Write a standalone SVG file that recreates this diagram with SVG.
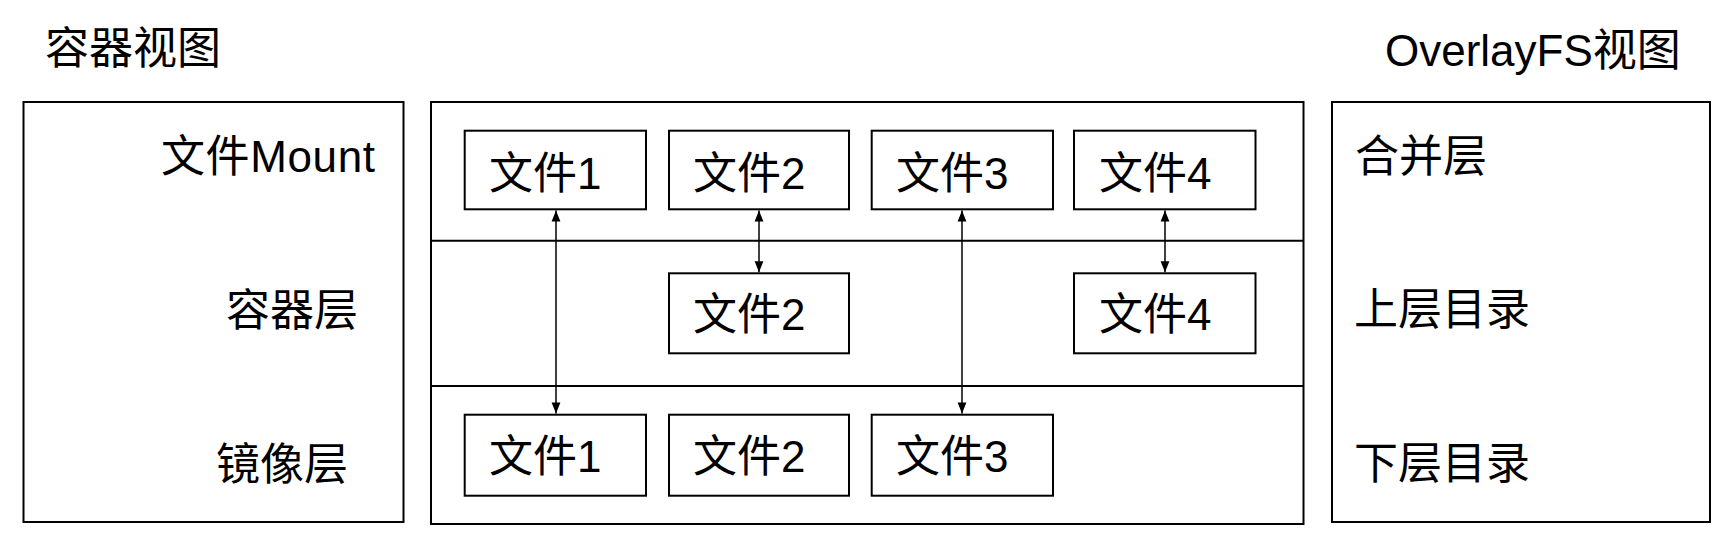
<svg xmlns="http://www.w3.org/2000/svg" width="1736" height="544" viewBox="0 0 1736 544">
<style>
  .frame { fill: #ffffff; stroke: #000000; stroke-width: 2; }
  .box { fill: #ffffff; stroke: #000000; stroke-width: 2; }
  .div { stroke: #000000; stroke-width: 2; fill: none; }
  .t { font-family: "Liberation Sans", "Noto Sans CJK SC", sans-serif; font-size: 44px; fill: #000000; }
  .conn line { stroke: #000000; stroke-width: 1.5; marker-start: url(#ah); marker-end: url(#ah); }
</style>
<defs>
  <marker id="ah" viewBox="0 0 10 10" refX="10" refY="5" markerWidth="12" markerHeight="11" markerUnits="userSpaceOnUse" orient="auto-start-reverse">
    <path d="M0,1 L10,5 L0,9 z" fill="#000000"/>
  </marker>
</defs>
<rect width="1736" height="544" fill="#ffffff"/>

<g id="title-container">
  <text class="t" x="45" y="64">容器视图</text>
</g>
<g id="title-overlay">
  <text class="t" x="1385" y="65.5">OverlayFS视图</text>
</g>

<g id="container-view">
  <rect class="frame" x="23.5" y="102" width="380" height="420"/>
  <text class="t" x="161" y="172" textLength="214" lengthAdjust="spacing">文件Mount</text>
  <text class="t" x="226" y="326">容器层</text>
  <text class="t" x="216" y="480">镜像层</text>
</g>

<g id="layers">
  <rect class="frame" x="431" y="102" width="872.5" height="422"/>
  <line class="div" x1="431" y1="240.7" x2="1303.5" y2="240.7"/>
  <line class="div" x1="431" y1="386" x2="1303.5" y2="386"/>
</g>

<g id="overlay-view">
  <rect class="frame" x="1332" y="102" width="378" height="420"/>
  <text class="t" x="1355" y="172">合并层</text>
  <text class="t" x="1354" y="325">上层目录</text>
  <text class="t" x="1354" y="479">下层目录</text>
</g>

<g id="merged-file1">
  <rect class="box" x="464.7" y="130.7" width="181.3" height="78.6"/>
  <text class="t" x="489" y="188.5">文件1</text>
</g>
<g id="merged-file2">
  <rect class="box" x="669" y="130.7" width="180" height="78.6"/>
  <text class="t" x="693" y="188.5">文件2</text>
</g>
<g id="merged-file3">
  <rect class="box" x="871.7" y="130.7" width="181.3" height="78.6"/>
  <text class="t" x="896" y="188.5">文件3</text>
</g>
<g id="merged-file4">
  <rect class="box" x="1074" y="130.7" width="181.5" height="78.6"/>
  <text class="t" x="1099" y="188.5">文件4</text>
</g>

<g id="upper-file2">
  <rect class="box" x="669" y="273.3" width="180" height="80"/>
  <text class="t" x="693" y="330">文件2</text>
</g>
<g id="upper-file4">
  <rect class="box" x="1074" y="273.3" width="181.5" height="80"/>
  <text class="t" x="1099" y="330">文件4</text>
</g>

<g id="lower-file1">
  <rect class="box" x="464.7" y="414.7" width="181.3" height="81"/>
  <text class="t" x="489" y="472">文件1</text>
</g>
<g id="lower-file2">
  <rect class="box" x="669" y="414.7" width="180" height="81"/>
  <text class="t" x="693" y="472">文件2</text>
</g>
<g id="lower-file3">
  <rect class="box" x="871.7" y="414.7" width="181.3" height="81"/>
  <text class="t" x="896" y="472">文件3</text>
</g>

<g id="connectors" class="conn">
  <line x1="556" y1="210.5" x2="556" y2="413.5"/>
  <line x1="759" y1="210.5" x2="759" y2="272.3"/>
  <line x1="962" y1="210.5" x2="962" y2="413.5"/>
  <line x1="1165" y1="210.5" x2="1165" y2="272.3"/>
</g>
</svg>
